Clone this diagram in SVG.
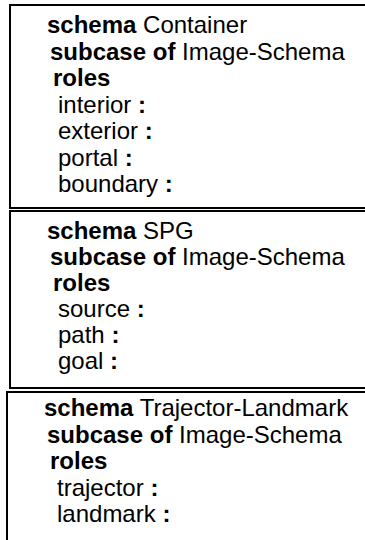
<svg xmlns="http://www.w3.org/2000/svg" width="365" height="540" viewBox="0 0 365 540">
<style>
.box{fill:#fff;stroke:#000;stroke-width:2}
text{font-family:"Liberation Sans",Arial,sans-serif;font-size:24px;fill:#000}
.b{font-weight:bold}
</style>
<rect width="365" height="540" fill="#fff"/>
<g id="container">
<rect class="box" x="10" y="5" width="370" height="203"/>
<text x="47" y="33"><tspan class="b">schema</tspan> Container</text>
<text x="50" y="59.5"><tspan class="b">subcase of</tspan> Image-Schema</text>
<text x="53" y="86" class="b">roles</text>
<text x="58" y="112.5">interior <tspan class="b">:</tspan></text>
<text x="58" y="139">exterior <tspan class="b">:</tspan></text>
<text x="58" y="165.5">portal <tspan class="b">:</tspan></text>
<text x="58" y="192">boundary <tspan class="b">:</tspan></text>
</g>
<g id="spg">
<rect class="box" x="10" y="211" width="370" height="177"/>
<text x="47" y="238.5"><tspan class="b">schema</tspan> SPG</text>
<text x="50" y="264.5"><tspan class="b">subcase of</tspan> Image-Schema</text>
<text x="53" y="290.5" class="b">roles</text>
<text x="58" y="316.5">source <tspan class="b">:</tspan></text>
<text x="58" y="342.5">path <tspan class="b">:</tspan></text>
<text x="58" y="368.5">goal <tspan class="b">:</tspan></text>
</g>
<g id="trajector-landmark">
<rect class="box" x="7" y="392" width="370" height="170"/>
<text x="44" y="416"><tspan class="b">schema</tspan> Trajector-Landmark</text>
<text x="47" y="442.5"><tspan class="b">subcase of</tspan> Image-Schema</text>
<text x="50" y="469" class="b">roles</text>
<text x="57" y="495.5">trajector <tspan class="b">:</tspan></text>
<text x="57" y="522">landmark <tspan class="b">:</tspan></text>
</g>
<g id="connectors"/>
</svg>
